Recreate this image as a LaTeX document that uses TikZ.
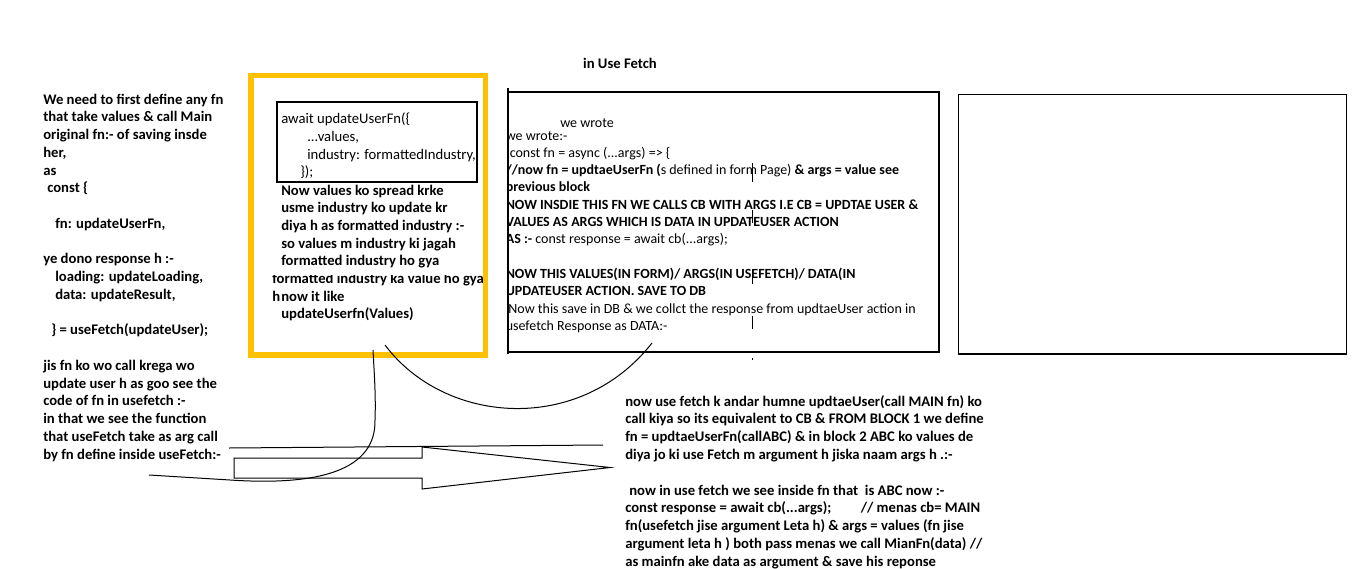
\documentclass[tikz,border=0pt]{standalone}
\usepackage{fontspec}
\setmainfont{Carlito}
\definecolor{gold}{HTML}{FFC000}
\newcommand\tdots{...}
\tikzset{
  txt/.style={inner sep=0pt, anchor=base west, font=\fontsize{11}{13}\selectfont},
  btxt/.style={inner sep=0pt, anchor=base west, font=\fontsize{11}{13}\selectfont\bfseries},
  mtxt/.style={inner sep=0pt, anchor=base west, font=\fontsize{10.5}{12.5}\selectfont},
  box/.style={draw=black, line width=1pt},
  conn/.style={draw=black, line width=0.75pt},
  cursor/.style={draw=black, line width=0.75pt},
}
\begin{document}
\begin{tikzpicture}[x=0.75pt,y=-0.75pt]
\useasboundingbox (0,0) rectangle (1371,568);
\fill[white] (0,0) rectangle (1371,568);

% ---------- left column ----------
\foreach \t [count=\i from 0] in {
  {We need to first define any fn},
  {that take values \& call Main},
  {original fn:- of saving insde},
  {her,},
  {as},
  {\hspace*{3pt}const \{},
  {},
  {\hspace*{9pt}fn: updateUserFn,},
  {},
  {ye dono response h :-},
  {\hspace*{9pt}loading: updateLoading,},
  {\hspace*{9pt}data: updateResult,},
  {},
  {\hspace*{6pt}\} = useFetch(updateUser);},
  {},
  {jis fn ko wo call krega wo},
  {update user h as goo see the},
  {code of fn in usefetch :-},
  {in that we see the function},
  {that useFetch take as arg call},
  {by fn define inside useFetch:-}}
  \node[btxt] (left\i) at (43,104+\i*17.75) {\t};

% ---------- yellow block ----------
\draw[gold, line width=3.8pt] (251,75.5) rectangle (485.5,355);
\draw[box] (277,102) rectangle (477,182);
\node[txt] (c1) at (281,123) {await updateUserFn(\{};
\node[txt] (c2) at (307,141) {\tdots values,};
\node[txt] (c3) at (307,159) {industry: formattedIndustry,};
\node[txt] (c4) at (300,176.5) {\});};

\foreach \t [count=\i from 0] in {
  {Now values ko spread krke},
  {usme industry ko update kr},
  {diya h as formatted industry :-},
  {so values m industry ki jagah},
  {formatted industry ho gya}}
  \node[btxt] (y\i) at (281,195+\i*17.7) {\t};
\begin{scope}
  \clip (262,275.5) rectangle (487,292);
  \node[btxt] (y5) at (272,283.5) {formatted industry ka value ho gya};
\end{scope}
\node[btxt] (y6h) at (272,301.2) {h};
\node[btxt] (y6) at (281,301.2) {now it like};
\node[btxt] (y7) at (281,318.9) {updateUserfn(Values)};

% ---------- middle block ----------
\node[btxt, anchor=base] (title) at (620,68.5) {in Use Fetch};
\draw[box] (508,92) rectangle (939,352);
\draw[black, line width=1.8pt] (508,88) -- (508,354);
\node[mtxt] (w0) at (560,127.5) {we wrote};
\begin{scope}
  \clip (509.2,100) rectangle (938,350);
  \foreach \t [count=\i from 0] in {
    {we wrote:-},
    {\hspace*{3pt}const fn = async (\tdots args) => \{},
    {\textbf{//now fn = updtaeUserFn (}s defined in form Page) \textbf{\& args = value see}},
    {\textbf{previous block}},
    {\textbf{NOW INSDIE THIS FN WE CALLS CB WITH ARGS I.E CB = UPDTAE USER \&}},
    {\textbf{VALUES AS ARGS WHICH IS DATA IN UPDATEUSER ACTION}},
    {\textbf{AS :-} const response = await cb(\tdots args);},
    {},
    {\textbf{NOW THIS VALUES(IN FORM)/ ARGS(IN USEFETCH)/ DATA(IN}},
    {\textbf{UPDATEUSER ACTION. SAVE TO DB}},
    {\hspace*{2pt}Now this save in DB \& we collct the response from updtaeUser action in},
    {usefetch Response as DATA:-}}
    \node[mtxt] (m\i) at (505.5,140+\i*17.3) {\t};
\end{scope}
\draw[cursor] (752,163) -- (752,182);
\draw[cursor] (752,210) -- (752,223);
\draw[cursor] (752,270) -- (752,284);
\draw[cursor] (752,316) -- (752,329);
\draw[cursor] (752,358) -- (752,360);

% ---------- right empty block ----------
\draw[box] (958.5,94.5) rectangle (1346.5,354);

% ---------- bottom right text ----------
\foreach \t [count=\i from 0] in {
  {now use fetch k andar humne updtaeUser(call MAIN fn) ko},
  {call kiya so its equivalent to CB \& FROM BLOCK 1 we define},
  {fn = updtaeUserFn(callABC) \& in block 2 ABC ko values de},
  {diya jo ki use Fetch m argument h jiska naam args h .:-},
  {},
  {\hspace*{3pt}now in use fetch we see inside fn that \ is ABC now :-},
  {const response = await cb(\tdots args);\hspace*{22pt}// menas cb= MAIN},
  {fn(usefetch jise argument Leta h) \& args = values (fn jise},
  {argument leta h ) both pass menas we call MianFn(data) //},
  {as mainfn ake data as argument \& save his reponse}}
  \node[btxt] (r\i) at (625,406+\i*17.8) {\t};

% ---------- connectors ----------
\coordinate (arrowTail) at (234,458);
\draw[conn] (arrowTail) -- (422,458) -- (422,447) -- (610,467.5) -- (422,489) -- (422,478) -- (234,478) -- cycle;
\coordinate (ua) at (229,448);
\coordinate (ub) at (603,445);
\draw[conn] (ua) -- (ub);
\coordinate (la) at (149,475);
\coordinate (lb) at (230,480);
\coordinate (lc) at (375,420);
\coordinate (ld) at (373,350);
\draw[conn] (la) -- (lb) .. controls (320,486) and (376,470) .. (lc) .. controls (376,395) and (374,370) .. (ld);
\coordinate (ca) at (385,345);
\coordinate (cb) at (652,343);
\draw[conn] (ca) .. controls (445,425) and (580,435) .. (cb);
\end{tikzpicture}
\end{document}
